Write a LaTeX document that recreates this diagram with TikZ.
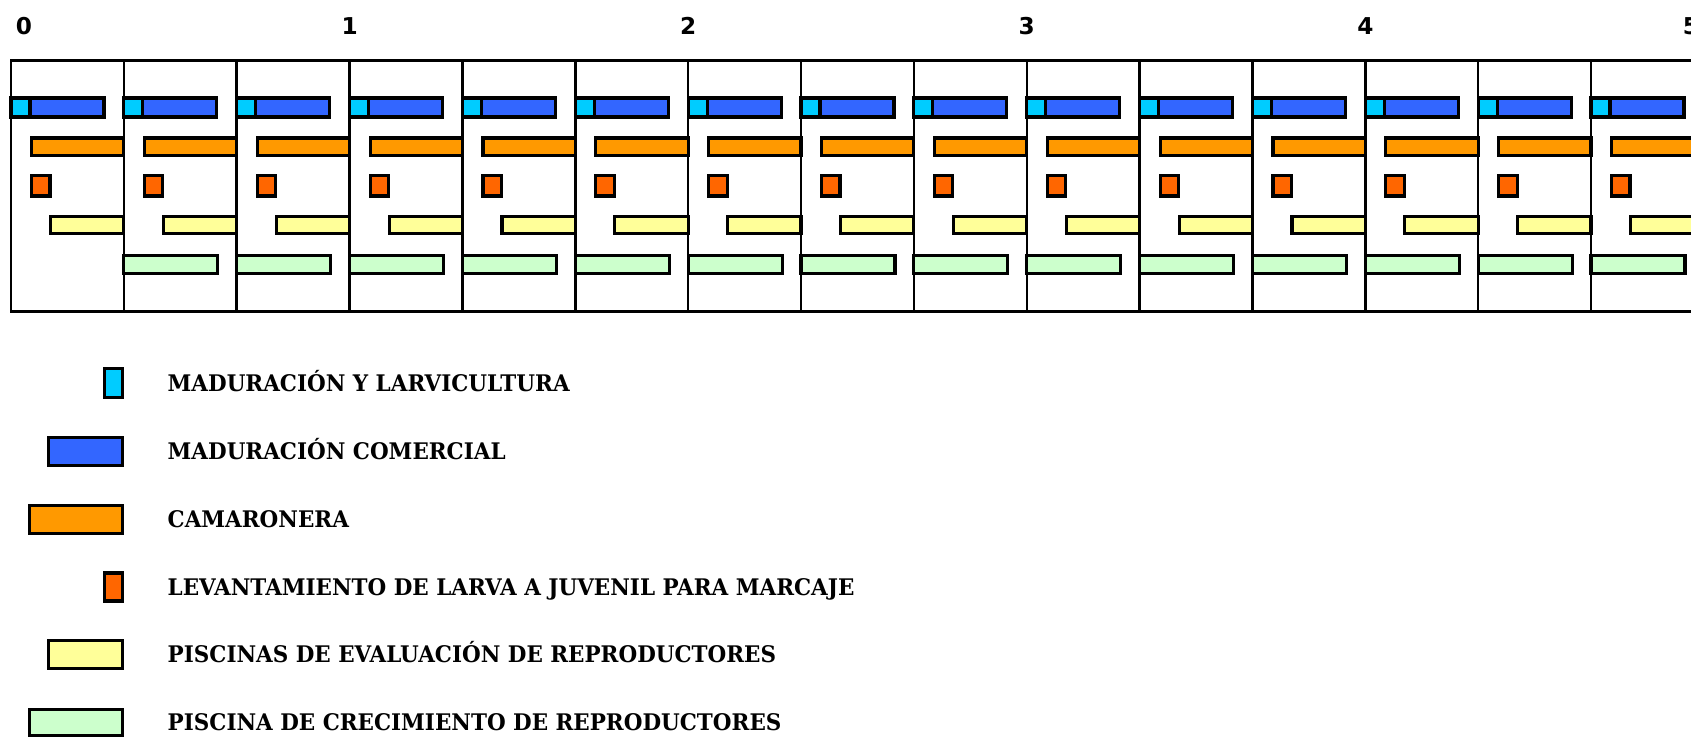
\documentclass[tikz,border=0pt]{standalone}
\usepackage{fontspec}
\setmainfont{DejaVu Serif}[FakeStretch=0.94]
\newfontfamily\numfont{DejaVu Sans}
\definecolor{cyanm}{HTML}{00CCFF}
\definecolor{bluem}{HTML}{3366FF}
\definecolor{orangem}{HTML}{FF9900}
\definecolor{redm}{HTML}{FF6600}
\definecolor{yellowm}{HTML}{FFFF99}
\definecolor{greenm}{HTML}{CCFFCC}

\begin{document}
\begin{tikzpicture}[x=0.1mm,y=-0.1mm,
  bar/.style={draw,line width=0.9pt},
  num/.style={font=\numfont\bfseries\fontsize{6.6}{8}\selectfont,inner sep=0pt},
  key/.style={draw,line width=0.9pt,inner sep=0pt,minimum height=2.8mm},
  leyenda/.style={font=\bfseries\fontsize{6.5}{8}\selectfont,inner sep=0pt,anchor=base west}]
\useasboundingbox (0,0) rectangle (1691,738);
\clip (0,0) rectangle (1691,738);
% years
\node[num] (n0) at (24,25.8){0};
\node[num] (n1) at (349.6,25.8){1};
\node[num] (n2) at (688.2,25.8){2};
\node[num] (n3) at (1026.7,25.8){3};
\node[num] (n4) at (1365.3,25.8){4};
\node[num] (n5) at (1691,25.8){5};
% bars in each column
\foreach \i in {0,...,14}{
  \pgfmathsetmacro{\L}{11+112.86*\i}
  \draw[bar,fill=bluem] (\L,98) rectangle (\L+93,117);
  \draw[bar,fill=cyanm] (\L,98) rectangle (\L+19,117);
  \draw[bar,fill=orangem] (\L+20.5,138) rectangle (\L+112.86,155.5);
  \draw[bar,fill=redm] (\L+20.5,175.5) rectangle (\L+39,196);
  \draw[bar,fill=yellowm] (\L+39.5,216.3) rectangle (\L+112.86,233.7);
  \ifnum\i>0
    \draw[bar,fill=greenm] (\L,255.3) rectangle (\L+94,273.7);
  \fi
}
% grid
\foreach \i in {1,...,14}
  \draw[line width=0.7pt] (11+112.86*\i,60.7) -- (11+112.86*\i,311);
\draw[line width=0.85pt] (11,60.7) rectangle (1704,311);
% legend
\node[key,fill=cyanm,minimum width=1.8mm,minimum height=2.9mm] (kcyan) at (113.5,383){};
\node[key,fill=bluem,minimum width=7.4mm] (kblue) at (85.5,451.5){};
\node[key,fill=orangem,minimum width=9.3mm] (korange) at (76,519.5){};
\node[key,fill=redm,minimum width=1.8mm] (kred) at (113.5,587){};
\node[key,fill=yellowm,minimum width=7.4mm] (kyellow) at (85.5,654.5){};
\node[key,fill=greenm,minimum width=9.3mm,minimum height=2.65mm] (kgreen) at (76,722.5){};
\node[leyenda] (lcyan) at (167,391.7){MADURACIÓN Y LARVICULTURA};
\node[leyenda] (lblue) at (167,459.5){MADURACIÓN COMERCIAL};
\node[leyenda] (lorange) at (167,527.3){CAMARONERA};
\node[leyenda] (lred) at (167,595){LEVANTAMIENTO DE LARVA A JUVENIL PARA MARCAJE};
\node[leyenda] (lyellow) at (167,662.8){PISCINAS DE EVALUACIÓN DE REPRODUCTORES};
\node[leyenda] (lgreen) at (167,730.6){PISCINA DE CRECIMIENTO DE REPRODUCTORES};
\end{tikzpicture}
\end{document}
